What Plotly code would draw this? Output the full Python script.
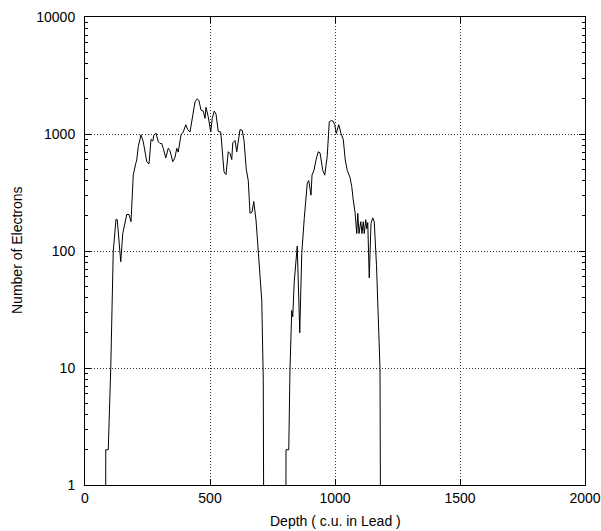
import numpy as np
import plotly.graph_objects as go

# Depth (c.u. in Lead) and number of electrons
depth = [0, 82, 83, 93, 103, 113, 124, 129, 143, 151, 167, 176, 184, 193, 203, 207, 213, 224,
         233, 240, 247, 256, 264, 271, 276, 284, 293, 300, 307, 313, 323, 333, 340, 351, 360,
         367, 373, 384, 393, 403, 411, 420, 429, 440, 449, 456, 464, 473, 480, 484, 493, 503,
         509, 517, 524, 533, 543, 551, 556, 564, 573, 580, 587, 591, 600, 607, 613, 620, 629,
         636, 645, 653, 660, 668, 675, 684, 693, 707, 713, 716,
         803, 804, 815, 820, 827, 831, 837, 849, 859, 867, 877, 889, 895, 904, 908, 916, 924,
         933, 940, 951, 959, 969, 977, 985, 992, 999, 1005, 1015, 1024, 1033, 1041, 1049, 1060,
         1067, 1073, 1080, 1087, 1091, 1096, 1103, 1108, 1113, 1117, 1123, 1127, 1131, 1137,
         1144, 1151, 1157, 1166, 1173, 1180, 1183, 2000]
electrons = [0, 0, 2, 2, 10, 100, 187, 185, 81, 141, 205, 205, 178, 445, 560, 600, 780, 985,
             860, 730, 580, 555, 900, 870, 985, 1015, 860, 830, 830, 755, 625, 755, 720, 580, 630,
             755, 700, 985, 1040, 1200, 1090, 1040, 1380, 1880, 2000, 1920, 1600, 1570, 1360, 1690, 1400, 1040,
             1360, 1570, 1480, 1050, 1040, 600, 475, 450, 705, 680, 605, 840, 880, 705, 880, 1090, 1075,
             880, 500, 400, 210, 215, 265, 184, 100, 38, 8, 0,
             0, 2, 2, 10, 31, 27.5, 55, 110, 20, 95, 190, 380, 400, 300, 445, 490, 600,
             705, 690, 490, 445, 650, 1270, 1300, 1290, 1200, 1010, 1200, 1010, 900, 600, 490, 425,
             355, 273, 215, 141, 210, 141, 178, 141, 178, 141, 185, 155, 175, 59,
             172, 192, 178, 75, 22.5, 9.9, 0, 0]

x_ticks = [0, 500, 1000, 1500, 2000]
y_ticks = [1, 10, 100, 1000, 10000]
y_ticktext = ["1", "10", "100", "1000", "10000"]

# zero counts cannot be shown on a log axis: place them below the visible range
floor_value = 0.1
y_plot = np.where(np.array(electrons, dtype=float) > 0, electrons, floor_value)

FONT = "Liberation Sans, Arial, Helvetica, sans-serif"

fig = go.Figure()
fig.add_trace(go.Scatter(x=depth, y=y_plot, mode="lines",
                         line=dict(color="black", width=1), showlegend=False,
                         hoverinfo="x+y"))

axis_common = dict(showline=True, linecolor="black", linewidth=1, mirror="ticks",
                   ticks="inside", tickcolor="black", ticklen=6, tickwidth=1,
                   showgrid=True, gridcolor="#333333", griddash="1px,2px", gridwidth=1,
                   zeroline=False, automargin=False,
                   tickfont=dict(family=FONT, size=14, color="black"))

fig.update_layout(
    width=601, height=531,
    margin=dict(l=85, r=16, t=17, b=46),
    paper_bgcolor="white", plot_bgcolor="white",
    font=dict(family=FONT, size=14, color="black"),
    xaxis=dict(range=[0, 2000], tickvals=x_ticks, **axis_common),
    yaxis=dict(type="log", range=[0, 4], tickvals=y_ticks, ticktext=y_ticktext,
               ticklabelstandoff=6,
               minor=dict(ticks="inside", ticklen=3, tickcolor="black", showgrid=False,
                          dtick="D1"),
               **axis_common),
    annotations=[
        dict(text="Depth ( c.u. in Lead )", xref="paper", yref="paper", x=0.5,
             y=(485 - 521) / 468, xanchor="center", yanchor="middle", showarrow=False,
             font=dict(family=FONT, size=14)),
        dict(text="Number of Electrons", xref="paper", yref="paper", x=(17 - 85) / 500,
             y=(485 - 250) / 468, xanchor="center", yanchor="middle", textangle=-90,
             showarrow=False, font=dict(family=FONT, size=14)),
    ],
)

fig.write_html("out.html", config={"displayModeBar": False},
               post_script="document.body.style.margin='0';document.body.style.padding='0';"
                           "document.documentElement.style.overflow='hidden';")
